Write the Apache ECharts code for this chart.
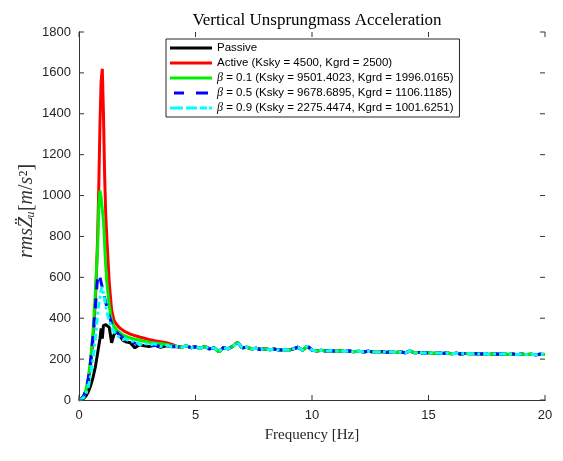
<!DOCTYPE html>
<html><head><meta charset="utf-8">
<script src="https://cdn.jsdelivr.net/npm/echarts@6/dist/echarts.min.js"></script>
<style>html,body{margin:0;padding:0;background:#fff}#c{width:563px;height:461px}</style>
</head><body><div id="c"></div>
<script>
// Frequency points (Hz) of the low-frequency part
const freqHead = [0,0.1,0.2,0.3,0.4,0.5,0.6,0.7,0.75,0.8,0.85,0.9,0.95,1.0,1.05,1.1,1.15,1.2,1.3,1.4,1.5,1.6,1.7,1.8,1.9,2.0,2.2,2.4,2.6,2.8,3.0,3.25,3.5,3.75,4.0];
const passiveHead = [0,2,8,20,40,70,110,160,195,230,265,300,350,300,365,370,368,368,355,280,320,335,330,305,290,285,280,255,270,265,262,268,258,265,260];
const activeHead  = [0,5,15,40,90,170,290,480,620,800,1050,1350,1560,1620,1400,1100,900,780,570,440,390,372,358,348,340,333,322,315,308,302,296,290,285,280,272];
const beta01Head  = [0,5,20,50,110,200,330,520,640,750,950,1025,990,930,880,760,650,570,460,390,360,345,335,325,318,312,303,297,292,287,283,279,276,272,266];
const beta05Head  = [0,5,20,50,105,190,310,450,530,600,615,600,575,550,525,500,475,455,410,375,350,335,322,312,303,297,287,278,272,270,266,268,262,266,262];
const beta09Head  = [0,3,12,30,65,120,200,300,360,420,470,500,540,553,520,490,460,430,385,355,335,320,310,300,295,300,285,290,270,280,268,275,262,268,260];
// High-frequency part (the curves overlap here)
const freqTail = [4.2,4.4,4.6,4.8,5.0,5.2,5.4,5.6,5.8,6.0,6.2,6.4,6.6,6.8,7.0,7.2,7.4,7.6,7.8,8.0,8.2,8.4,8.6,8.8,9.0,9.2,9.4,9.6,9.8,10.0,10.2,10.4,10.6,10.8,11.0,11.2,11.4,11.6,11.8,12.0,12.2,12.4,12.6,12.8,13.0,13.2,13.4,13.6,13.8,14.0,14.2,14.4,14.6,14.8,15.0,15.2,15.4,15.6,15.8,16.0,16.2,16.4,16.6,16.8,17.0,17.2,17.4,17.6,17.8,18.0,18.2,18.4,18.6,18.8,19.0,19.2,19.4,19.6,19.8,20.0];
const tailValues = [262,258,265,256,260,252,262,250,255,236,256,250,262,282,255,258,250,253,247,251,246,249,244,247,243,250,258,243,264,244,240,243,239,242,238,241,237,240,236,239,235,238,236,234,237,233,236,232,235,231,240,230,233,229,232,228,231,227,230,226,229,225,228,226,227,224,227,223,226,224,226,223,225,222,225,222,224,221,224,223];

const seriesNames = ['Passive','Active (Ksky = 4500, Kgrd = 2500)','β = 0.1 (Ksky = 9501.4023, Kgrd = 1996.0165)','β = 0.5 (Ksky = 9678.6895, Kgrd = 1106.1185)','β = 0.9 (Ksky = 2275.4474, Kgrd = 1001.6251)'];
const xTickValues = [0,5,10,15,20];
const yTickValues = [0,200,400,600,800,1000,1200,1400,1600,1800];
const xMin = 0, xMax = 20, yMin = 0, yMax = 1800;

function pairs(head){
  const xs = freqHead.concat(freqTail);
  const ys = head.concat(tailValues);
  return xs.map((x,i)=>[x, ys[i]]);
}
const heads = [passiveHead, activeHead, beta01Head, beta05Head, beta09Head];
const colors = ['#000000','#ff0000','#00ee00','#0000ff','#00ffff'];
const dashes = ['solid','solid','solid',[10,9],[7,3,3,3]];
const solidIcon = 'path://M0,0H42V3H0Z';
const icons = [solidIcon, solidIcon, solidIcon,
  'path://M0,0H10V3H0Z M22,0H34V3H22Z',
  'path://M0,0H13V3H0Z M16,0H27V3H16Z M30,0H37V3H30Z M39,0H42V3H39Z'];

const chart = echarts.init(document.getElementById('c'));
const axisCol = '#333333';
const TL = 5;
const tickFont = {color:'#262626', fontSize:13, fontFamily:'Liberation Sans'};

// inward ticks on all four sides, placed through the axes' own scales
const tickSeries = [
  {type:'custom', coordinateSystem:'cartesian2d', silent:true, z:20, clip:false,
   data:xTickValues.map(v=>[v, yMin]),
   renderItem:function(params, api){
     const b = api.coord([api.value(0), yMin]);
     const t = api.coord([api.value(0), yMax]);
     const st = {stroke:axisCol, lineWidth:1};
     return {type:'group', children:[
       {type:'line', shape:{x1:b[0], y1:b[1], x2:b[0], y2:b[1]-TL}, style:st},
       {type:'line', shape:{x1:t[0], y1:t[1], x2:t[0], y2:t[1]+TL}, style:st}]};
   }},
  {type:'custom', coordinateSystem:'cartesian2d', silent:true, z:20, clip:false,
   data:yTickValues.map(v=>[xMin, v]),
   renderItem:function(params, api){
     const l = api.coord([xMin, api.value(1)]);
     const r = api.coord([xMax, api.value(1)]);
     const st = {stroke:axisCol, lineWidth:1};
     return {type:'group', children:[
       {type:'line', shape:{x1:l[0], y1:l[1], x2:l[0]+TL, y2:l[1]}, style:st},
       {type:'line', shape:{x1:r[0], y1:r[1], x2:r[0]-TL, y2:r[1]}, style:st}]};
   }}
];

chart.setOption({
  animation:false,
  backgroundColor:'#fff',
  title:{text:'Vertical Unsprungmass Acceleration', left:312, textAlign:'center', top:7,
    textStyle:{fontFamily:'Liberation Serif', fontWeight:'normal', fontSize:17, color:'#000'}},
  grid:{left:79, right:18, top:32, bottom:61},
  legend:{
    orient:'vertical', left:166, top:39, itemWidth:42, itemHeight:3, itemGap:3, z:30,
    padding:[3,6,3,4], borderColor:'#262626', borderWidth:1, backgroundColor:'#fff',
    data:seriesNames.map((n,i)=>({name:n, icon:icons[i], itemStyle:{color:colors[i]}})),
    textStyle:{fontFamily:'Liberation Sans', fontSize:11.5, color:'#000', lineHeight:12,
      rich:{b:{fontFamily:'Liberation Serif', fontStyle:'italic', fontSize:12}}},
    formatter:function(n){ return n.charAt(0)==='β' ? '{b|β}' + n.slice(1) : n; }
  },
  xAxis:[
    {type:'value', min:xMin, max:xMax, interval:5, position:'bottom',
     axisLine:{lineStyle:{color:axisCol}}, axisTick:{show:false},
     splitLine:{show:false}, axisLabel:Object.assign({margin:9, formatter:v=>xTickValues.includes(v)?String(v):''}, tickFont),
     name:'Frequency [Hz]', nameLocation:'middle', nameGap:28,
     nameTextStyle:{fontFamily:'Liberation Serif', fontSize:15, color:'#262626'}},
    {type:'value', min:xMin, max:xMax, interval:5, position:'top',
     axisLine:{lineStyle:{color:axisCol}}, axisTick:{show:false},
     splitLine:{show:false}, axisLabel:{show:false}}
  ],
  yAxis:[
    {type:'value', min:yMin, max:yMax, interval:200, position:'left',
     axisLine:{show:true, lineStyle:{color:axisCol}}, axisTick:{show:false},
     splitLine:{show:false}, axisLabel:Object.assign({margin:8, formatter:v=>yTickValues.includes(v)?String(v):''}, tickFont),
     name:'{i|rmsZ\u0308\u1d64}{n|[}{i|m}{n|/}{i|s}{n|²]}', nameLocation:'middle', nameGap:42, nameRotate:90,
     nameMoveOverlap:false,
     nameTextStyle:{color:'#333', padding:[0,0,0,10], rich:{
       i:{fontFamily:'Liberation Serif', fontStyle:'italic', fontSize:20, color:'#333'},
       n:{fontFamily:'Liberation Serif', fontSize:20, color:'#333'}}}},
    {type:'value', min:yMin, max:yMax, interval:200, position:'right',
     axisLine:{show:true, lineStyle:{color:axisCol}}, axisTick:{show:false},
     splitLine:{show:false}, axisLabel:{show:false}}
  ],
  series: heads.map((h,i)=>({
    name:seriesNames[i], type:'line', xAxisIndex:0, yAxisIndex:0,
    data:pairs(h), symbol:'none', smooth:false, z:2+i,
    lineStyle:{color:colors[i], width:3, type:dashes[i]},
    itemStyle:{color:colors[i]}
  })).concat(tickSeries)
});
</script></body></html>
